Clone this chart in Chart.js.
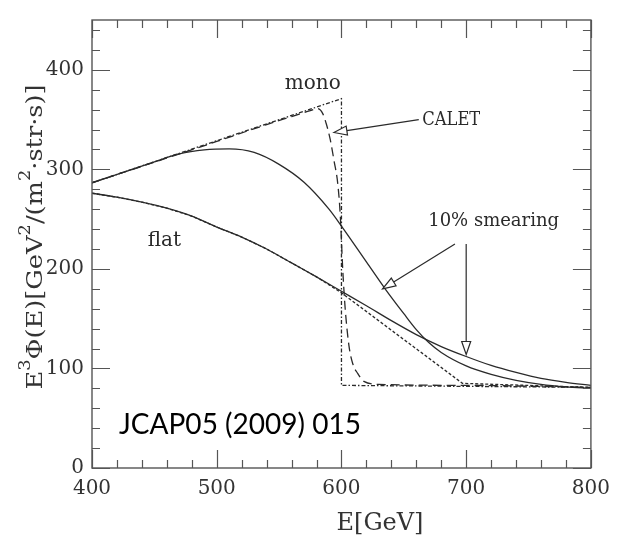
<!DOCTYPE html>
<html>
<head>
<meta charset="utf-8">
<script src="https://cdn.jsdelivr.net/npm/chart.js@4.4.1/dist/chart.umd.min.js"></script>
<style>
  body { margin: 0; background: #fff; }
  #wrap { width: 619px; height: 538px; position: relative; }
</style>
</head>
<body>
<div id="wrap"><canvas id="chart"></canvas></div>
<script>
// axis ticks
const xTicks = [400, 500, 600, 700, 800];
const yTicks = [0, 100, 200, 300, 400];

// mono spectrum, no smearing
const monoE = [400, 600, 600, 800];
const monoV = [286.5, 371, 83, 81];

// mono spectrum, CALET resolution
const caletE = [400, 500, 540, 560, 575, 581, 585, 588, 591, 594, 597, 599, 601, 603, 606, 609, 613, 618, 630, 700, 800];
const caletV = [286.5, 328, 345, 353, 359, 361, 356, 345, 330, 309, 286, 255, 200, 160, 123, 105, 95, 87, 84, 83, 81];

// mono spectrum, 10% smearing
const monoSmearE = [400, 425, 450, 470, 490, 510, 530, 550, 570, 590, 600, 620, 635, 650, 660, 670, 680, 700, 720, 740, 760, 780, 800];
const monoSmearV = [286.5, 297, 307.5, 315.5, 319.5, 320.5, 317, 305, 287, 260, 243, 207, 180, 155, 139, 126, 116, 102.5, 94, 88, 84, 81.5, 80];

// flat spectrum, no smearing
const flatE = [400, 420, 440, 460, 480, 500, 520, 540, 560, 580, 600, 697, 800];
const flatV = [276, 272, 267, 261, 253, 242, 232, 220, 206, 192, 176, 85, 81];

// flat spectrum, 10% smearing
const flatSmearE = [400, 420, 440, 460, 480, 500, 520, 540, 560, 580, 600, 620, 640, 660, 680, 700, 720, 740, 760, 780, 800];
const flatSmearV = [276, 272, 267, 261, 253, 242, 232, 220, 206, 192, 177.5, 163, 148, 134, 122, 112, 103, 96, 90, 86, 83];

// text notes [text, E, value, font size, max width]
const notes = [
  ['mono', 577, 386, 20, 60],
  ['CALET', 688, 349, 18, 58],
  ['10% smearing', 722, 248, 18, 145],
  ['flat', 458, 228, 20, 40]
];

// arrows [fromE, fromV, toE, toV]
const arrows = [
  [662, 350, 594, 337],
  [691, 225, 633, 180],
  [700, 225, 700, 114]
];

const pts = (xs, ys) => xs.map((x, i) => ({ x: x, y: ys[i] }));
const ink = '#2a2a2a';
const frame = '#555';
const serif = '"DejaVu Serif", serif';

const line = (data, dash, extra) => Object.assign({
  data: data,
  borderColor: ink,
  borderWidth: 1.3,
  borderDash: dash,
  pointRadius: 0,
  fill: false,
  cubicInterpolationMode: 'monotone'
}, extra || {});

function arrowHead(ctx, x1, y1, x2, y2) {
  const a = Math.atan2(y2 - y1, x2 - x1);
  const len = 13, half = 4.5;
  const bx = x2 - len * Math.cos(a), by = y2 - len * Math.sin(a);
  ctx.beginPath();
  ctx.moveTo(x1, y1);
  ctx.lineTo(bx, by);
  ctx.stroke();
  ctx.beginPath();
  ctx.moveTo(x2, y2);
  ctx.lineTo(bx + half * Math.sin(a), by - half * Math.cos(a));
  ctx.lineTo(bx - half * Math.sin(a), by + half * Math.cos(a));
  ctx.closePath();
  ctx.fillStyle = '#fff';
  ctx.fill();
  ctx.stroke();
}

const decor = {
  id: 'decor',
  afterDraw(chart) {
    const ctx = chart.ctx;
    const { left, right, top, bottom } = chart.chartArea;
    const xs = chart.scales.x, ys = chart.scales.y;
    ctx.save();

    // box + inside ticks on all sides
    ctx.strokeStyle = frame;
    ctx.lineWidth = 1.4;
    ctx.strokeRect(left, top, right - left, bottom - top);
    ctx.lineWidth = 1.2;
    ctx.beginPath();
    for (let v = xs.min; v <= xs.max; v += 20) {
      const p = Math.round(xs.getPixelForValue(v)) + 0.5;
      const len = v % 100 === 0 ? 18 : 8;
      ctx.moveTo(p, bottom); ctx.lineTo(p, bottom - len);
      ctx.moveTo(p, top); ctx.lineTo(p, top + len);
    }
    for (let v = ys.min; v <= ys.max; v += 20) {
      const p = Math.round(ys.getPixelForValue(v)) + 0.5;
      const len = v % 100 === 0 ? 18 : 8;
      ctx.moveTo(left, p); ctx.lineTo(left + len, p);
      ctx.moveTo(right, p); ctx.lineTo(right - len, p);
    }
    ctx.stroke();

    // notes
    ctx.fillStyle = ink;
    ctx.textAlign = 'center';
    ctx.textBaseline = 'middle';
    notes.forEach(([t, e, v, s, w]) => {
      ctx.font = s + 'px ' + serif;
      ctx.fillText(t, xs.getPixelForValue(e), ys.getPixelForValue(v), w);
    });

    // arrows
    ctx.strokeStyle = ink;
    ctx.lineWidth = 1.2;
    arrows.forEach(([e1, v1, e2, v2]) => {
      arrowHead(ctx, xs.getPixelForValue(e1), ys.getPixelForValue(v1),
        xs.getPixelForValue(e2), ys.getPixelForValue(v2));
    });

    // reference tag
    ctx.fillStyle = '#000';
    ctx.font = '29px Lato, "Open Sans", sans-serif';
    ctx.textAlign = 'left';
    ctx.textBaseline = 'alphabetic';
    ctx.fillText('JCAP05 (2009) 015', 119, 434, 242);

    // x title
    ctx.fillStyle = '#333';
    ctx.font = '24px ' + serif;
    ctx.textAlign = 'center';
    ctx.textBaseline = 'middle';
    ctx.fillText('E[GeV]', 380, 524);

    // y title with superscripts, stretched to its length
    const parts = [['E', 0], ['3', 1], ['Φ(E)[GeV', 0], ['2', 1], ['/(m', 0], ['2', 1], ['·str·s)]', 0]];
    const fs = 23;
    let total = 0;
    parts.forEach(([t, sup]) => {
      ctx.font = (sup ? Math.round(fs * 0.7) : fs) + 'px ' + serif;
      total += ctx.measureText(t).width;
    });
    ctx.translate(36, 237);
    ctx.rotate(-Math.PI / 2);
    ctx.scale(305 / total, 1);
    ctx.textAlign = 'left';
    let x = -total / 2;
    parts.forEach(([t, sup]) => {
      ctx.font = (sup ? Math.round(fs * 0.7) : fs) + 'px ' + serif;
      ctx.fillText(t, x, sup ? -fs * 0.45 : 0);
      x += ctx.measureText(t).width;
    });
    ctx.restore();
  }
};

new Chart(document.getElementById('chart'), {
  type: 'line',
  data: {
    datasets: [
      line(pts(monoE, monoV), [4, 2, 1.5, 2], { cubicInterpolationMode: 'default', tension: 0 }),
      line(pts(caletE, caletV), [9, 5]),
      line(pts(monoSmearE, monoSmearV), []),
      line(pts(flatE, flatV), [3, 2], { cubicInterpolationMode: 'default', tension: 0 }),
      line(pts(flatSmearE, flatSmearV), [])
    ]
  },
  options: {
    responsive: true,
    maintainAspectRatio: false,
    animation: false,
    layout: { padding: { top: 10, right: 19, left: 0, bottom: 0 } },
    plugins: { legend: { display: false }, tooltip: { enabled: false } },
    scales: {
      x: {
        type: 'linear',
        min: 400,
        max: 800,
        afterFit: (s) => { s.height = 70; },
        afterBuildTicks: (s) => { s.ticks = xTicks.map(v => ({ value: v })); },
        grid: { display: false, drawTicks: false },
        border: { display: false },
        ticks: { color: '#333', padding: 9, font: { family: serif, size: 20 } }
      },
      y: {
        min: 0,
        max: 450,
        afterFit: (s) => { s.width = 92; },
        afterBuildTicks: (s) => { s.ticks = yTicks.map(v => ({ value: v })); },
        grid: { display: false, drawTicks: false },
        border: { display: false },
        ticks: { color: '#333', padding: 8, font: { family: serif, size: 20 } }
      }
    }
  },
  plugins: [decor]
});
</script>
</body>
</html>
